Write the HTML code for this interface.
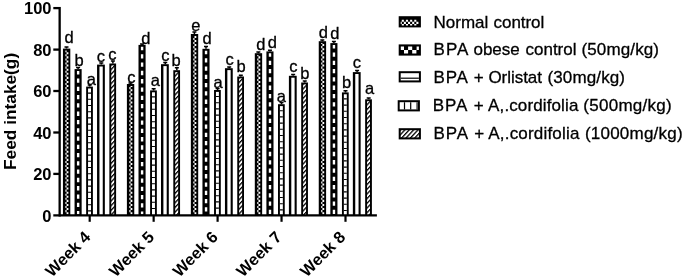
<!DOCTYPE html><html><head><meta charset="utf-8"><title>Feed intake</title><style>html,body{margin:0;padding:0;background:#fff}svg{display:block}text{font-family:"Liberation Sans",Arial,sans-serif;fill:#000}</style></head><body>
<svg width="685" height="278" viewBox="0 0 685 278">
<rect width="685" height="278" fill="#fff"/>
<defs>
<pattern id="hatch" patternUnits="userSpaceOnUse" width="3.2" height="3.2" patternTransform="rotate(-47)"><rect width="3.2" height="3.2" fill="#fff"/><rect width="3.2" height="1.3" fill="#000"/></pattern>
</defs>
<rect x="62.95" y="48.6" width="7.35" height="166.8" fill="#000"/><path d="M66.6 212.15H68.4V214.2H66.6zM65.4 210.1H66.6V212.15H65.4zM66.6 208.05H68.4V210.1H66.6zM65.4 206H66.6V208.05H65.4zM66.6 203.95H68.4V206H66.6zM65.4 201.9H66.6V203.95H65.4zM66.6 199.85H68.4V201.9H66.6zM65.4 197.8H66.6V199.85H65.4zM66.6 195.75H68.4V197.8H66.6zM65.4 193.7H66.6V195.75H65.4zM66.6 191.65H68.4V193.7H66.6zM65.4 189.6H66.6V191.65H65.4zM66.6 187.55H68.4V189.6H66.6zM65.4 185.5H66.6V187.55H65.4zM66.6 183.45H68.4V185.5H66.6zM65.4 181.4H66.6V183.45H65.4zM66.6 179.35H68.4V181.4H66.6zM65.4 177.3H66.6V179.35H65.4zM66.6 175.25H68.4V177.3H66.6zM65.4 173.2H66.6V175.25H65.4zM66.6 171.15H68.4V173.2H66.6zM65.4 169.1H66.6V171.15H65.4zM66.6 167.05H68.4V169.1H66.6zM65.4 165H66.6V167.05H65.4zM66.6 162.95H68.4V165H66.6zM65.4 160.9H66.6V162.95H65.4zM66.6 158.85H68.4V160.9H66.6zM65.4 156.8H66.6V158.85H65.4zM66.6 154.75H68.4V156.8H66.6zM65.4 152.7H66.6V154.75H65.4zM66.6 150.65H68.4V152.7H66.6zM65.4 148.6H66.6V150.65H65.4zM66.6 146.55H68.4V148.6H66.6zM65.4 144.5H66.6V146.55H65.4zM66.6 142.45H68.4V144.5H66.6zM65.4 140.4H66.6V142.45H65.4zM66.6 138.35H68.4V140.4H66.6zM65.4 136.3H66.6V138.35H65.4zM66.6 134.25H68.4V136.3H66.6zM65.4 132.2H66.6V134.25H65.4zM66.6 130.15H68.4V132.2H66.6zM65.4 128.1H66.6V130.15H65.4zM66.6 126.05H68.4V128.1H66.6zM65.4 124H66.6V126.05H65.4zM66.6 121.95H68.4V124H66.6zM65.4 119.9H66.6V121.95H65.4zM66.6 117.85H68.4V119.9H66.6zM65.4 115.8H66.6V117.85H65.4zM66.6 113.75H68.4V115.8H66.6zM65.4 111.7H66.6V113.75H65.4zM66.6 109.65H68.4V111.7H66.6zM65.4 107.6H66.6V109.65H65.4zM66.6 105.55H68.4V107.6H66.6zM65.4 103.5H66.6V105.55H65.4zM66.6 101.45H68.4V103.5H66.6zM65.4 99.4H66.6V101.45H65.4zM66.6 97.35H68.4V99.4H66.6zM65.4 95.3H66.6V97.35H65.4zM66.6 93.25H68.4V95.3H66.6zM65.4 91.2H66.6V93.25H65.4zM66.6 89.15H68.4V91.2H66.6zM65.4 87.1H66.6V89.15H65.4zM66.6 85.05H68.4V87.1H66.6zM65.4 83H66.6V85.05H65.4zM66.6 80.95H68.4V83H66.6zM65.4 78.9H66.6V80.95H65.4zM66.6 76.85H68.4V78.9H66.6zM65.4 74.8H66.6V76.85H65.4zM66.6 72.75H68.4V74.8H66.6zM65.4 70.7H66.6V72.75H65.4zM66.6 68.65H68.4V70.7H66.6zM65.4 66.6H66.6V68.65H65.4zM66.6 64.55H68.4V66.6H66.6zM65.4 62.5H66.6V64.55H65.4zM66.6 60.45H68.4V62.5H66.6zM65.4 58.4H66.6V60.45H65.4zM66.6 56.35H68.4V58.4H66.6zM65.4 54.3H66.6V56.35H65.4zM66.6 52.25H68.4V54.3H66.6zM65.4 50.5H66.6V52.25H65.4z" fill="#fff"/><path d="M66.5 48.6V46.4M64.5 47h4" stroke="#000" stroke-width="1.5" fill="none"/><text x="69.2" y="42.9" font-size="16.5" text-anchor="middle" stroke="#000" stroke-width="0.3">d</text>
<rect x="74.55" y="69.1" width="7.1" height="146.3" fill="#000"/><path d="M76.95 71H79.35V74.5H76.95zM76.95 78.48H79.35V82.78H76.95zM76.95 86.76H79.35V91.06H76.95zM76.95 95.04H79.35V99.34H76.95zM76.95 103.32H79.35V107.62H76.95zM76.95 111.6H79.35V115.9H76.95zM76.95 119.88H79.35V124.18H76.95zM76.95 128.16H79.35V132.46H76.95zM76.95 136.44H79.35V140.74H76.95zM76.95 144.72H79.35V149.02H76.95zM76.95 153H79.35V157.3H76.95zM76.95 161.28H79.35V165.58H76.95zM76.95 169.56H79.35V173.86H76.95zM76.95 177.84H79.35V182.14H76.95zM76.95 186.12H79.35V190.42H76.95zM76.95 194.4H79.35V198.7H76.95zM76.95 202.68H79.35V206.98H76.95zM76.95 210.96H79.35V214.3H76.95z" fill="#fff"/><path d="M78.1 69.1V66.9M76.1 67.5h4" stroke="#000" stroke-width="1.5" fill="none"/><text x="79.1" y="66.2" font-size="16.5" text-anchor="middle" stroke="#000" stroke-width="0.3">b</text>
<rect x="86.15" y="86.6" width="6.75" height="128.8" fill="#000"/><rect x="88.05" y="88.5" width="2.95" height="126.9" fill="#fff"/><path d="M88.05 93.1H91M88.05 99.3H91M88.05 105.5H91M88.05 111.7H91M88.05 117.9H91M88.05 124.1H91M88.05 130.3H91M88.05 136.5H91M88.05 142.7H91M88.05 148.9H91M88.05 155.1H91M88.05 161.3H91M88.05 167.5H91M88.05 173.7H91M88.05 179.9H91M88.05 186.1H91M88.05 192.3H91M88.05 198.5H91M88.05 204.7H91M88.05 210.9H91" stroke="#000" stroke-width="1.1" fill="none"/><path d="M89.7 86.6V84.4M87.7 85h4" stroke="#000" stroke-width="1.5" fill="none"/><text x="91.3" y="84.9" font-size="16.5" text-anchor="middle" stroke="#000" stroke-width="0.3">a</text>
<rect x="97.05" y="64.6" width="7.8" height="150.8" fill="#000"/><rect x="99.45" y="66.5" width="3.3" height="148.9" fill="#fff"/><path d="M101.3 64.6V62.4M99.3 63h4" stroke="#000" stroke-width="1.5" fill="none"/><text x="100.8" y="61.8" font-size="16.5" text-anchor="middle" stroke="#000" stroke-width="0.3">c</text>
<rect x="109.35" y="63.5" width="6.75" height="151.9" fill="#000"/><rect x="111.25" y="65.4" width="2.95" height="150" fill="url(#hatch)"/><path d="M112.9 63.5V60.5M110.9 61.1h4" stroke="#000" stroke-width="1.5" fill="none"/><text x="112.4" y="60" font-size="16.5" text-anchor="middle" stroke="#000" stroke-width="0.3">c</text>
<rect x="126.9" y="84" width="7.35" height="131.4" fill="#000"/><path d="M130.55 212.15H132.35V214.2H130.55zM129.35 210.1H130.55V212.15H129.35zM130.55 208.05H132.35V210.1H130.55zM129.35 206H130.55V208.05H129.35zM130.55 203.95H132.35V206H130.55zM129.35 201.9H130.55V203.95H129.35zM130.55 199.85H132.35V201.9H130.55zM129.35 197.8H130.55V199.85H129.35zM130.55 195.75H132.35V197.8H130.55zM129.35 193.7H130.55V195.75H129.35zM130.55 191.65H132.35V193.7H130.55zM129.35 189.6H130.55V191.65H129.35zM130.55 187.55H132.35V189.6H130.55zM129.35 185.5H130.55V187.55H129.35zM130.55 183.45H132.35V185.5H130.55zM129.35 181.4H130.55V183.45H129.35zM130.55 179.35H132.35V181.4H130.55zM129.35 177.3H130.55V179.35H129.35zM130.55 175.25H132.35V177.3H130.55zM129.35 173.2H130.55V175.25H129.35zM130.55 171.15H132.35V173.2H130.55zM129.35 169.1H130.55V171.15H129.35zM130.55 167.05H132.35V169.1H130.55zM129.35 165H130.55V167.05H129.35zM130.55 162.95H132.35V165H130.55zM129.35 160.9H130.55V162.95H129.35zM130.55 158.85H132.35V160.9H130.55zM129.35 156.8H130.55V158.85H129.35zM130.55 154.75H132.35V156.8H130.55zM129.35 152.7H130.55V154.75H129.35zM130.55 150.65H132.35V152.7H130.55zM129.35 148.6H130.55V150.65H129.35zM130.55 146.55H132.35V148.6H130.55zM129.35 144.5H130.55V146.55H129.35zM130.55 142.45H132.35V144.5H130.55zM129.35 140.4H130.55V142.45H129.35zM130.55 138.35H132.35V140.4H130.55zM129.35 136.3H130.55V138.35H129.35zM130.55 134.25H132.35V136.3H130.55zM129.35 132.2H130.55V134.25H129.35zM130.55 130.15H132.35V132.2H130.55zM129.35 128.1H130.55V130.15H129.35zM130.55 126.05H132.35V128.1H130.55zM129.35 124H130.55V126.05H129.35zM130.55 121.95H132.35V124H130.55zM129.35 119.9H130.55V121.95H129.35zM130.55 117.85H132.35V119.9H130.55zM129.35 115.8H130.55V117.85H129.35zM130.55 113.75H132.35V115.8H130.55zM129.35 111.7H130.55V113.75H129.35zM130.55 109.65H132.35V111.7H130.55zM129.35 107.6H130.55V109.65H129.35zM130.55 105.55H132.35V107.6H130.55zM129.35 103.5H130.55V105.55H129.35zM130.55 101.45H132.35V103.5H130.55zM129.35 99.4H130.55V101.45H129.35zM130.55 97.35H132.35V99.4H130.55zM129.35 95.3H130.55V97.35H129.35zM130.55 93.25H132.35V95.3H130.55zM129.35 91.2H130.55V93.25H129.35zM130.55 89.15H132.35V91.2H130.55zM129.35 87.1H130.55V89.15H129.35zM130.55 85.9H132.35V87.1H130.55z" fill="#fff"/><path d="M130.45 84V82.5M128.45 83.1h4" stroke="#000" stroke-width="1.5" fill="none"/><text x="131.45" y="83.4" font-size="16.5" text-anchor="middle" stroke="#000" stroke-width="0.3">c</text>
<rect x="138.5" y="44.9" width="7.1" height="170.5" fill="#000"/><path d="M140.9 46.8H143.3V50.3H140.9zM140.9 54.28H143.3V58.58H140.9zM140.9 62.56H143.3V66.86H140.9zM140.9 70.84H143.3V75.14H140.9zM140.9 79.12H143.3V83.42H140.9zM140.9 87.4H143.3V91.7H140.9zM140.9 95.68H143.3V99.98H140.9zM140.9 103.96H143.3V108.26H140.9zM140.9 112.24H143.3V116.54H140.9zM140.9 120.52H143.3V124.82H140.9zM140.9 128.8H143.3V133.1H140.9zM140.9 137.08H143.3V141.38H140.9zM140.9 145.36H143.3V149.66H140.9zM140.9 153.64H143.3V157.94H140.9zM140.9 161.92H143.3V166.22H140.9zM140.9 170.2H143.3V174.5H140.9zM140.9 178.48H143.3V182.78H140.9zM140.9 186.76H143.3V191.06H140.9zM140.9 195.04H143.3V199.34H140.9zM140.9 203.32H143.3V207.62H140.9zM140.9 211.6H143.3V214.3H140.9z" fill="#fff"/><path d="M142.05 44.9V43.4M140.05 44h4" stroke="#000" stroke-width="1.5" fill="none"/><text x="145.75" y="43.5" font-size="16.5" text-anchor="middle" stroke="#000" stroke-width="0.3">d</text>
<rect x="150.1" y="90.4" width="6.75" height="125" fill="#000"/><rect x="152" y="92.3" width="2.95" height="123.1" fill="#fff"/><path d="M152 96.9H154.95M152 103.1H154.95M152 109.3H154.95M152 115.5H154.95M152 121.7H154.95M152 127.9H154.95M152 134.1H154.95M152 140.3H154.95M152 146.5H154.95M152 152.7H154.95M152 158.9H154.95M152 165.1H154.95M152 171.3H154.95M152 177.5H154.95M152 183.7H154.95M152 189.9H154.95M152 196.1H154.95M152 202.3H154.95M152 208.5H154.95" stroke="#000" stroke-width="1.1" fill="none"/><path d="M153.65 90.4V88.2M151.65 88.8h4" stroke="#000" stroke-width="1.5" fill="none"/><text x="155.25" y="86.1" font-size="16.5" text-anchor="middle" stroke="#000" stroke-width="0.3">a</text>
<rect x="161" y="64.2" width="7.8" height="151.2" fill="#000"/><rect x="163.4" y="66.1" width="3.3" height="149.3" fill="#fff"/><path d="M165.25 64.2V62M163.25 62.6h4" stroke="#000" stroke-width="1.5" fill="none"/><text x="165.25" y="60.9" font-size="16.5" text-anchor="middle" stroke="#000" stroke-width="0.3">c</text>
<rect x="173.3" y="70.2" width="6.75" height="145.2" fill="#000"/><rect x="175.2" y="72.1" width="2.95" height="143.3" fill="url(#hatch)"/><path d="M176.85 70.2V67.2M174.85 67.8h4" stroke="#000" stroke-width="1.5" fill="none"/><text x="176.15" y="65.7" font-size="16.5" text-anchor="middle" stroke="#000" stroke-width="0.3">b</text>
<rect x="190.85" y="34" width="7.35" height="181.4" fill="#000"/><path d="M194.5 212.15H196.3V214.2H194.5zM193.3 210.1H194.5V212.15H193.3zM194.5 208.05H196.3V210.1H194.5zM193.3 206H194.5V208.05H193.3zM194.5 203.95H196.3V206H194.5zM193.3 201.9H194.5V203.95H193.3zM194.5 199.85H196.3V201.9H194.5zM193.3 197.8H194.5V199.85H193.3zM194.5 195.75H196.3V197.8H194.5zM193.3 193.7H194.5V195.75H193.3zM194.5 191.65H196.3V193.7H194.5zM193.3 189.6H194.5V191.65H193.3zM194.5 187.55H196.3V189.6H194.5zM193.3 185.5H194.5V187.55H193.3zM194.5 183.45H196.3V185.5H194.5zM193.3 181.4H194.5V183.45H193.3zM194.5 179.35H196.3V181.4H194.5zM193.3 177.3H194.5V179.35H193.3zM194.5 175.25H196.3V177.3H194.5zM193.3 173.2H194.5V175.25H193.3zM194.5 171.15H196.3V173.2H194.5zM193.3 169.1H194.5V171.15H193.3zM194.5 167.05H196.3V169.1H194.5zM193.3 165H194.5V167.05H193.3zM194.5 162.95H196.3V165H194.5zM193.3 160.9H194.5V162.95H193.3zM194.5 158.85H196.3V160.9H194.5zM193.3 156.8H194.5V158.85H193.3zM194.5 154.75H196.3V156.8H194.5zM193.3 152.7H194.5V154.75H193.3zM194.5 150.65H196.3V152.7H194.5zM193.3 148.6H194.5V150.65H193.3zM194.5 146.55H196.3V148.6H194.5zM193.3 144.5H194.5V146.55H193.3zM194.5 142.45H196.3V144.5H194.5zM193.3 140.4H194.5V142.45H193.3zM194.5 138.35H196.3V140.4H194.5zM193.3 136.3H194.5V138.35H193.3zM194.5 134.25H196.3V136.3H194.5zM193.3 132.2H194.5V134.25H193.3zM194.5 130.15H196.3V132.2H194.5zM193.3 128.1H194.5V130.15H193.3zM194.5 126.05H196.3V128.1H194.5zM193.3 124H194.5V126.05H193.3zM194.5 121.95H196.3V124H194.5zM193.3 119.9H194.5V121.95H193.3zM194.5 117.85H196.3V119.9H194.5zM193.3 115.8H194.5V117.85H193.3zM194.5 113.75H196.3V115.8H194.5zM193.3 111.7H194.5V113.75H193.3zM194.5 109.65H196.3V111.7H194.5zM193.3 107.6H194.5V109.65H193.3zM194.5 105.55H196.3V107.6H194.5zM193.3 103.5H194.5V105.55H193.3zM194.5 101.45H196.3V103.5H194.5zM193.3 99.4H194.5V101.45H193.3zM194.5 97.35H196.3V99.4H194.5zM193.3 95.3H194.5V97.35H193.3zM194.5 93.25H196.3V95.3H194.5zM193.3 91.2H194.5V93.25H193.3zM194.5 89.15H196.3V91.2H194.5zM193.3 87.1H194.5V89.15H193.3zM194.5 85.05H196.3V87.1H194.5zM193.3 83H194.5V85.05H193.3zM194.5 80.95H196.3V83H194.5zM193.3 78.9H194.5V80.95H193.3zM194.5 76.85H196.3V78.9H194.5zM193.3 74.8H194.5V76.85H193.3zM194.5 72.75H196.3V74.8H194.5zM193.3 70.7H194.5V72.75H193.3zM194.5 68.65H196.3V70.7H194.5zM193.3 66.6H194.5V68.65H193.3zM194.5 64.55H196.3V66.6H194.5zM193.3 62.5H194.5V64.55H193.3zM194.5 60.45H196.3V62.5H194.5zM193.3 58.4H194.5V60.45H193.3zM194.5 56.35H196.3V58.4H194.5zM193.3 54.3H194.5V56.35H193.3zM194.5 52.25H196.3V54.3H194.5zM193.3 50.2H194.5V52.25H193.3zM194.5 48.15H196.3V50.2H194.5zM193.3 46.1H194.5V48.15H193.3zM194.5 44.05H196.3V46.1H194.5zM193.3 42H194.5V44.05H193.3zM194.5 39.95H196.3V42H194.5zM193.3 37.9H194.5V39.95H193.3zM194.5 35.9H196.3V37.9H194.5z" fill="#fff"/><path d="M194.4 34V31.4M192.4 32h4" stroke="#000" stroke-width="1.5" fill="none"/><text x="195.9" y="30.8" font-size="16.5" text-anchor="middle" stroke="#000" stroke-width="0.3">e</text>
<rect x="202.45" y="48.8" width="7.1" height="166.6" fill="#000"/><path d="M204.85 50.7H207.25V54.2H204.85zM204.85 58.18H207.25V62.48H204.85zM204.85 66.46H207.25V70.76H204.85zM204.85 74.74H207.25V79.04H204.85zM204.85 83.02H207.25V87.32H204.85zM204.85 91.3H207.25V95.6H204.85zM204.85 99.58H207.25V103.88H204.85zM204.85 107.86H207.25V112.16H204.85zM204.85 116.14H207.25V120.44H204.85zM204.85 124.42H207.25V128.72H204.85zM204.85 132.7H207.25V137H204.85zM204.85 140.98H207.25V145.28H204.85zM204.85 149.26H207.25V153.56H204.85zM204.85 157.54H207.25V161.84H204.85zM204.85 165.82H207.25V170.12H204.85zM204.85 174.1H207.25V178.4H204.85zM204.85 182.38H207.25V186.68H204.85zM204.85 190.66H207.25V194.96H204.85zM204.85 198.94H207.25V203.24H204.85zM204.85 207.22H207.25V211.52H204.85z" fill="#fff"/><path d="M206 48.8V45.8M204 46.4h4" stroke="#000" stroke-width="1.5" fill="none"/><text x="207" y="43.5" font-size="16.5" text-anchor="middle" stroke="#000" stroke-width="0.3">d</text>
<rect x="214.05" y="90" width="6.75" height="125.4" fill="#000"/><rect x="215.95" y="91.9" width="2.95" height="123.5" fill="#fff"/><path d="M215.95 96.5H218.9M215.95 102.7H218.9M215.95 108.9H218.9M215.95 115.1H218.9M215.95 121.3H218.9M215.95 127.5H218.9M215.95 133.7H218.9M215.95 139.9H218.9M215.95 146.1H218.9M215.95 152.3H218.9M215.95 158.5H218.9M215.95 164.7H218.9M215.95 170.9H218.9M215.95 177.1H218.9M215.95 183.3H218.9M215.95 189.5H218.9M215.95 195.7H218.9M215.95 201.9H218.9M215.95 208.1H218.9" stroke="#000" stroke-width="1.1" fill="none"/><path d="M217.6 90V87.8M215.6 88.4h4" stroke="#000" stroke-width="1.5" fill="none"/><text x="218" y="87.8" font-size="16.5" text-anchor="middle" stroke="#000" stroke-width="0.3">a</text>
<rect x="224.95" y="68.2" width="7.8" height="147.2" fill="#000"/><rect x="227.35" y="70.1" width="3.3" height="145.3" fill="#fff"/><path d="M229.2 68.2V66.4M227.2 67h4" stroke="#000" stroke-width="1.5" fill="none"/><text x="229.7" y="64.9" font-size="16.5" text-anchor="middle" stroke="#000" stroke-width="0.3">c</text>
<rect x="237.25" y="76.5" width="6.75" height="138.9" fill="#000"/><rect x="239.15" y="78.4" width="2.95" height="137" fill="url(#hatch)"/><path d="M240.8 76.5V74.7M238.8 75.3h4" stroke="#000" stroke-width="1.5" fill="none"/><text x="241.2" y="71.7" font-size="16.5" text-anchor="middle" stroke="#000" stroke-width="0.3">b</text>
<rect x="254.8" y="53.2" width="7.35" height="162.2" fill="#000"/><path d="M258.45 212.15H260.25V214.2H258.45zM257.25 210.1H258.45V212.15H257.25zM258.45 208.05H260.25V210.1H258.45zM257.25 206H258.45V208.05H257.25zM258.45 203.95H260.25V206H258.45zM257.25 201.9H258.45V203.95H257.25zM258.45 199.85H260.25V201.9H258.45zM257.25 197.8H258.45V199.85H257.25zM258.45 195.75H260.25V197.8H258.45zM257.25 193.7H258.45V195.75H257.25zM258.45 191.65H260.25V193.7H258.45zM257.25 189.6H258.45V191.65H257.25zM258.45 187.55H260.25V189.6H258.45zM257.25 185.5H258.45V187.55H257.25zM258.45 183.45H260.25V185.5H258.45zM257.25 181.4H258.45V183.45H257.25zM258.45 179.35H260.25V181.4H258.45zM257.25 177.3H258.45V179.35H257.25zM258.45 175.25H260.25V177.3H258.45zM257.25 173.2H258.45V175.25H257.25zM258.45 171.15H260.25V173.2H258.45zM257.25 169.1H258.45V171.15H257.25zM258.45 167.05H260.25V169.1H258.45zM257.25 165H258.45V167.05H257.25zM258.45 162.95H260.25V165H258.45zM257.25 160.9H258.45V162.95H257.25zM258.45 158.85H260.25V160.9H258.45zM257.25 156.8H258.45V158.85H257.25zM258.45 154.75H260.25V156.8H258.45zM257.25 152.7H258.45V154.75H257.25zM258.45 150.65H260.25V152.7H258.45zM257.25 148.6H258.45V150.65H257.25zM258.45 146.55H260.25V148.6H258.45zM257.25 144.5H258.45V146.55H257.25zM258.45 142.45H260.25V144.5H258.45zM257.25 140.4H258.45V142.45H257.25zM258.45 138.35H260.25V140.4H258.45zM257.25 136.3H258.45V138.35H257.25zM258.45 134.25H260.25V136.3H258.45zM257.25 132.2H258.45V134.25H257.25zM258.45 130.15H260.25V132.2H258.45zM257.25 128.1H258.45V130.15H257.25zM258.45 126.05H260.25V128.1H258.45zM257.25 124H258.45V126.05H257.25zM258.45 121.95H260.25V124H258.45zM257.25 119.9H258.45V121.95H257.25zM258.45 117.85H260.25V119.9H258.45zM257.25 115.8H258.45V117.85H257.25zM258.45 113.75H260.25V115.8H258.45zM257.25 111.7H258.45V113.75H257.25zM258.45 109.65H260.25V111.7H258.45zM257.25 107.6H258.45V109.65H257.25zM258.45 105.55H260.25V107.6H258.45zM257.25 103.5H258.45V105.55H257.25zM258.45 101.45H260.25V103.5H258.45zM257.25 99.4H258.45V101.45H257.25zM258.45 97.35H260.25V99.4H258.45zM257.25 95.3H258.45V97.35H257.25zM258.45 93.25H260.25V95.3H258.45zM257.25 91.2H258.45V93.25H257.25zM258.45 89.15H260.25V91.2H258.45zM257.25 87.1H258.45V89.15H257.25zM258.45 85.05H260.25V87.1H258.45zM257.25 83H258.45V85.05H257.25zM258.45 80.95H260.25V83H258.45zM257.25 78.9H258.45V80.95H257.25zM258.45 76.85H260.25V78.9H258.45zM257.25 74.8H258.45V76.85H257.25zM258.45 72.75H260.25V74.8H258.45zM257.25 70.7H258.45V72.75H257.25zM258.45 68.65H260.25V70.7H258.45zM257.25 66.6H258.45V68.65H257.25zM258.45 64.55H260.25V66.6H258.45zM257.25 62.5H258.45V64.55H257.25zM258.45 60.45H260.25V62.5H258.45zM257.25 58.4H258.45V60.45H257.25zM258.45 56.35H260.25V58.4H258.45zM257.25 55.1H258.45V56.35H257.25z" fill="#fff"/><path d="M258.35 53.2V51.4M256.35 52h4" stroke="#000" stroke-width="1.5" fill="none"/><text x="260.95" y="50.4" font-size="16.5" text-anchor="middle" stroke="#000" stroke-width="0.3">d</text>
<rect x="266.4" y="51.4" width="7.1" height="164" fill="#000"/><path d="M268.8 53.3H271.2V56.8H268.8zM268.8 60.78H271.2V65.08H268.8zM268.8 69.06H271.2V73.36H268.8zM268.8 77.34H271.2V81.64H268.8zM268.8 85.62H271.2V89.92H268.8zM268.8 93.9H271.2V98.2H268.8zM268.8 102.18H271.2V106.48H268.8zM268.8 110.46H271.2V114.76H268.8zM268.8 118.74H271.2V123.04H268.8zM268.8 127.02H271.2V131.32H268.8zM268.8 135.3H271.2V139.6H268.8zM268.8 143.58H271.2V147.88H268.8zM268.8 151.86H271.2V156.16H268.8zM268.8 160.14H271.2V164.44H268.8zM268.8 168.42H271.2V172.72H268.8zM268.8 176.7H271.2V181H268.8zM268.8 184.98H271.2V189.28H268.8zM268.8 193.26H271.2V197.56H268.8zM268.8 201.54H271.2V205.84H268.8zM268.8 209.82H271.2V214.12H268.8z" fill="#fff"/><path d="M269.95 51.4V49.6M267.95 50.2h4" stroke="#000" stroke-width="1.5" fill="none"/><text x="272.45" y="48.2" font-size="16.5" text-anchor="middle" stroke="#000" stroke-width="0.3">d</text>
<rect x="278" y="104.2" width="6.75" height="111.2" fill="#000"/><rect x="279.9" y="106.1" width="2.95" height="109.3" fill="#fff"/><path d="M279.9 110.7H282.85M279.9 116.9H282.85M279.9 123.1H282.85M279.9 129.3H282.85M279.9 135.5H282.85M279.9 141.7H282.85M279.9 147.9H282.85M279.9 154.1H282.85M279.9 160.3H282.85M279.9 166.5H282.85M279.9 172.7H282.85M279.9 178.9H282.85M279.9 185.1H282.85M279.9 191.3H282.85M279.9 197.5H282.85M279.9 203.7H282.85M279.9 209.9H282.85" stroke="#000" stroke-width="1.1" fill="none"/><path d="M281.55 104.2V102M279.55 102.6h4" stroke="#000" stroke-width="1.5" fill="none"/><text x="281.35" y="102.4" font-size="16.5" text-anchor="middle" stroke="#000" stroke-width="0.3">a</text>
<rect x="288.9" y="75.8" width="7.8" height="139.6" fill="#000"/><rect x="291.3" y="77.7" width="3.3" height="137.7" fill="#fff"/><path d="M293.15 75.8V74M291.15 74.6h4" stroke="#000" stroke-width="1.5" fill="none"/><text x="293.35" y="72.1" font-size="16.5" text-anchor="middle" stroke="#000" stroke-width="0.3">c</text>
<rect x="301.2" y="82.5" width="6.75" height="132.9" fill="#000"/><rect x="303.1" y="84.4" width="2.95" height="131" fill="url(#hatch)"/><path d="M304.75 82.5V80.3M302.75 80.9h4" stroke="#000" stroke-width="1.5" fill="none"/><text x="304.75" y="79" font-size="16.5" text-anchor="middle" stroke="#000" stroke-width="0.3">b</text>
<rect x="318.75" y="41.2" width="7.35" height="174.2" fill="#000"/><path d="M322.4 212.15H324.2V214.2H322.4zM321.2 210.1H322.4V212.15H321.2zM322.4 208.05H324.2V210.1H322.4zM321.2 206H322.4V208.05H321.2zM322.4 203.95H324.2V206H322.4zM321.2 201.9H322.4V203.95H321.2zM322.4 199.85H324.2V201.9H322.4zM321.2 197.8H322.4V199.85H321.2zM322.4 195.75H324.2V197.8H322.4zM321.2 193.7H322.4V195.75H321.2zM322.4 191.65H324.2V193.7H322.4zM321.2 189.6H322.4V191.65H321.2zM322.4 187.55H324.2V189.6H322.4zM321.2 185.5H322.4V187.55H321.2zM322.4 183.45H324.2V185.5H322.4zM321.2 181.4H322.4V183.45H321.2zM322.4 179.35H324.2V181.4H322.4zM321.2 177.3H322.4V179.35H321.2zM322.4 175.25H324.2V177.3H322.4zM321.2 173.2H322.4V175.25H321.2zM322.4 171.15H324.2V173.2H322.4zM321.2 169.1H322.4V171.15H321.2zM322.4 167.05H324.2V169.1H322.4zM321.2 165H322.4V167.05H321.2zM322.4 162.95H324.2V165H322.4zM321.2 160.9H322.4V162.95H321.2zM322.4 158.85H324.2V160.9H322.4zM321.2 156.8H322.4V158.85H321.2zM322.4 154.75H324.2V156.8H322.4zM321.2 152.7H322.4V154.75H321.2zM322.4 150.65H324.2V152.7H322.4zM321.2 148.6H322.4V150.65H321.2zM322.4 146.55H324.2V148.6H322.4zM321.2 144.5H322.4V146.55H321.2zM322.4 142.45H324.2V144.5H322.4zM321.2 140.4H322.4V142.45H321.2zM322.4 138.35H324.2V140.4H322.4zM321.2 136.3H322.4V138.35H321.2zM322.4 134.25H324.2V136.3H322.4zM321.2 132.2H322.4V134.25H321.2zM322.4 130.15H324.2V132.2H322.4zM321.2 128.1H322.4V130.15H321.2zM322.4 126.05H324.2V128.1H322.4zM321.2 124H322.4V126.05H321.2zM322.4 121.95H324.2V124H322.4zM321.2 119.9H322.4V121.95H321.2zM322.4 117.85H324.2V119.9H322.4zM321.2 115.8H322.4V117.85H321.2zM322.4 113.75H324.2V115.8H322.4zM321.2 111.7H322.4V113.75H321.2zM322.4 109.65H324.2V111.7H322.4zM321.2 107.6H322.4V109.65H321.2zM322.4 105.55H324.2V107.6H322.4zM321.2 103.5H322.4V105.55H321.2zM322.4 101.45H324.2V103.5H322.4zM321.2 99.4H322.4V101.45H321.2zM322.4 97.35H324.2V99.4H322.4zM321.2 95.3H322.4V97.35H321.2zM322.4 93.25H324.2V95.3H322.4zM321.2 91.2H322.4V93.25H321.2zM322.4 89.15H324.2V91.2H322.4zM321.2 87.1H322.4V89.15H321.2zM322.4 85.05H324.2V87.1H322.4zM321.2 83H322.4V85.05H321.2zM322.4 80.95H324.2V83H322.4zM321.2 78.9H322.4V80.95H321.2zM322.4 76.85H324.2V78.9H322.4zM321.2 74.8H322.4V76.85H321.2zM322.4 72.75H324.2V74.8H322.4zM321.2 70.7H322.4V72.75H321.2zM322.4 68.65H324.2V70.7H322.4zM321.2 66.6H322.4V68.65H321.2zM322.4 64.55H324.2V66.6H322.4zM321.2 62.5H322.4V64.55H321.2zM322.4 60.45H324.2V62.5H322.4zM321.2 58.4H322.4V60.45H321.2zM322.4 56.35H324.2V58.4H322.4zM321.2 54.3H322.4V56.35H321.2zM322.4 52.25H324.2V54.3H322.4zM321.2 50.2H322.4V52.25H321.2zM322.4 48.15H324.2V50.2H322.4zM321.2 46.1H322.4V48.15H321.2zM322.4 44.05H324.2V46.1H322.4zM321.2 43.1H322.4V44.05H321.2z" fill="#fff"/><path d="M322.3 41.2V39.4M320.3 40h4" stroke="#000" stroke-width="1.5" fill="none"/><text x="323.3" y="38.4" font-size="16.5" text-anchor="middle" stroke="#000" stroke-width="0.3">d</text>
<rect x="330.35" y="43.1" width="7.1" height="172.3" fill="#000"/><path d="M332.75 45H335.15V48.5H332.75zM332.75 52.48H335.15V56.78H332.75zM332.75 60.76H335.15V65.06H332.75zM332.75 69.04H335.15V73.34H332.75zM332.75 77.32H335.15V81.62H332.75zM332.75 85.6H335.15V89.9H332.75zM332.75 93.88H335.15V98.18H332.75zM332.75 102.16H335.15V106.46H332.75zM332.75 110.44H335.15V114.74H332.75zM332.75 118.72H335.15V123.02H332.75zM332.75 127H335.15V131.3H332.75zM332.75 135.28H335.15V139.58H332.75zM332.75 143.56H335.15V147.86H332.75zM332.75 151.84H335.15V156.14H332.75zM332.75 160.12H335.15V164.42H332.75zM332.75 168.4H335.15V172.7H332.75zM332.75 176.68H335.15V180.98H332.75zM332.75 184.96H335.15V189.26H332.75zM332.75 193.24H335.15V197.54H332.75zM332.75 201.52H335.15V205.82H332.75zM332.75 209.8H335.15V214.1H332.75z" fill="#fff"/><path d="M333.9 43.1V40.9M331.9 41.5h4" stroke="#000" stroke-width="1.5" fill="none"/><text x="334.9" y="38.6" font-size="16.5" text-anchor="middle" stroke="#000" stroke-width="0.3">d</text>
<rect x="341.95" y="92.4" width="6.75" height="123" fill="#000"/><rect x="343.85" y="94.3" width="2.95" height="121.1" fill="#fff"/><path d="M343.85 98.9H346.8M343.85 105.1H346.8M343.85 111.3H346.8M343.85 117.5H346.8M343.85 123.7H346.8M343.85 129.9H346.8M343.85 136.1H346.8M343.85 142.3H346.8M343.85 148.5H346.8M343.85 154.7H346.8M343.85 160.9H346.8M343.85 167.1H346.8M343.85 173.3H346.8M343.85 179.5H346.8M343.85 185.7H346.8M343.85 191.9H346.8M343.85 198.1H346.8M343.85 204.3H346.8M343.85 210.5H346.8" stroke="#000" stroke-width="1.1" fill="none"/><path d="M345.5 92.4V90.2M343.5 90.8h4" stroke="#000" stroke-width="1.5" fill="none"/><text x="346.5" y="88" font-size="16.5" text-anchor="middle" stroke="#000" stroke-width="0.3">b</text>
<rect x="352.85" y="72.1" width="7.8" height="143.3" fill="#000"/><rect x="355.25" y="74" width="3.3" height="141.4" fill="#fff"/><path d="M357.1 72.1V69.9M355.1 70.5h4" stroke="#000" stroke-width="1.5" fill="none"/><text x="356.9" y="68" font-size="16.5" text-anchor="middle" stroke="#000" stroke-width="0.3">c</text>
<rect x="365.15" y="99.3" width="6.75" height="116.1" fill="#000"/><rect x="367.05" y="101.2" width="2.95" height="114.2" fill="url(#hatch)"/><path d="M368.7 99.3V97.5M366.7 98.1h4" stroke="#000" stroke-width="1.5" fill="none"/><text x="369.7" y="94.2" font-size="16.5" text-anchor="middle" stroke="#000" stroke-width="0.3">a</text>
<path d="M59.65 6.95V216.55" stroke="#000" stroke-width="2.3" fill="none"/>
<path d="M53.3 215.4H376.9" stroke="#000" stroke-width="2.3" fill="none"/>
<text x="51.5" y="221.7" font-size="16.5" font-weight="bold" text-anchor="end">0</text>
<path d="M53.3 173.9H59" stroke="#000" stroke-width="2.3"/>
<text x="51.5" y="180.2" font-size="16.5" font-weight="bold" text-anchor="end">20</text>
<path d="M53.3 132.5H59" stroke="#000" stroke-width="2.3"/>
<text x="51.5" y="138.8" font-size="16.5" font-weight="bold" text-anchor="end">40</text>
<path d="M53.3 91H59" stroke="#000" stroke-width="2.3"/>
<text x="51.5" y="97.3" font-size="16.5" font-weight="bold" text-anchor="end">60</text>
<path d="M53.3 49.6H59" stroke="#000" stroke-width="2.3"/>
<text x="51.5" y="55.9" font-size="16.5" font-weight="bold" text-anchor="end">80</text>
<path d="M53.3 8.1H59" stroke="#000" stroke-width="2.3"/>
<text x="51.5" y="14.4" font-size="16.5" font-weight="bold" text-anchor="end">100</text>
<path d="M89.7 215.4V221.8" stroke="#000" stroke-width="2.2"/>
<text transform="translate(91.5 238.2) rotate(-45)" font-size="16.3" font-weight="bold" text-anchor="end">Week 4</text>
<path d="M153.65 215.4V221.8" stroke="#000" stroke-width="2.2"/>
<text transform="translate(155.2 238.2) rotate(-45)" font-size="16.3" font-weight="bold" text-anchor="end">Week 5</text>
<path d="M217.6 215.4V221.8" stroke="#000" stroke-width="2.2"/>
<text transform="translate(218.9 238.2) rotate(-45)" font-size="16.3" font-weight="bold" text-anchor="end">Week 6</text>
<path d="M281.55 215.4V221.8" stroke="#000" stroke-width="2.2"/>
<text transform="translate(282.6 238.2) rotate(-45)" font-size="16.3" font-weight="bold" text-anchor="end">Week 7</text>
<path d="M345.5 215.4V221.8" stroke="#000" stroke-width="2.2"/>
<text transform="translate(346.3 238.2) rotate(-45)" font-size="16.3" font-weight="bold" text-anchor="end">Week 8</text>
<text transform="translate(15.7 111.4) rotate(-90)" font-size="17.3" font-weight="bold" text-anchor="middle">Feed intake(g)</text>
<rect x="398.7" y="16.2" width="22.2" height="11.2" fill="#000"/>
<path d="M401.78 19.78H403.86V21.86H401.78zM405.94 19.78H408.02V21.86H405.94zM410.1 19.78H412.18V21.86H410.1zM414.26 19.78H416.34V21.86H414.26zM400.7 21.86H401.78V23.94H400.7zM403.86 21.86H405.94V23.94H403.86zM408.02 21.86H410.1V23.94H408.02zM412.18 21.86H414.26V23.94H412.18zM416.34 21.86H418.42V23.94H416.34zM401.78 23.94H403.86V25.4H401.78zM405.94 23.94H408.02V25.4H405.94zM410.1 23.94H412.18V25.4H410.1zM414.26 23.94H416.34V25.4H414.26z" fill="#fff"/>
<text y="27.5" font-size="17" stroke="#000" stroke-width="0.3"><tspan x="433.5" letter-spacing="0">Normal </tspan><tspan x="493.6" letter-spacing="-0.07">control</tspan></text>
<rect x="398.7" y="44.4" width="22.2" height="11.2" fill="#000"/>
<path d="M400.8 46.4H404V49.9H400.8zM408.1 46.4H412.2V49.9H408.1zM416.6 46.4H418.9V49.9H416.6zM404 49.9H408.1V53.6H404zM412.2 49.9H416.4V53.6H412.2z" fill="#fff"/>
<text y="55.4" font-size="17" stroke="#000" stroke-width="0.3"><tspan x="433.5" letter-spacing="1.04">BPA </tspan><tspan x="473.4" letter-spacing="0.03">obese </tspan><tspan x="525.5" letter-spacing="-0.01">control </tspan><tspan x="581.5" letter-spacing="0.12">(50mg/kg)</tspan></text>
<rect x="398.7" y="71.2" width="22.2" height="11.2" fill="#000"/>
<rect x="400.7" y="73.2" width="18.2" height="7.2" fill="#fff"/>
<path d="M400.7 78.2h18.2" stroke="#000" stroke-width="1.2"/>
<text y="82.5" font-size="17" stroke="#000" stroke-width="0.3"><tspan x="433.5" letter-spacing="0.84">BPA </tspan><tspan x="473.8" letter-spacing="0">+ </tspan><tspan x="488.4" letter-spacing="-0.03">Orlistat </tspan><tspan x="547.4" letter-spacing="0.14">(30mg/kg)</tspan></text>
<rect x="397.7" y="100.2" width="22.2" height="11.2" fill="#000"/>
<rect x="399.7" y="102.2" width="18.2" height="7.2" fill="#fff"/>
<path d="M404.5 102.2v7.2M410.7 102.2v7.2" stroke="#000" stroke-width="1.2"/><path d="M417.1 102.2v7.2" stroke="#000" stroke-opacity="0.65" stroke-width="1.7"/>
<text y="111.4" font-size="17" stroke="#000" stroke-width="0.3"><tspan x="432.7" letter-spacing="0.94">BPA </tspan><tspan x="473.8" letter-spacing="0">+ </tspan><tspan x="488.1" letter-spacing="0.12">A,.cordifolia </tspan><tspan x="583.3" letter-spacing="0.27">(500mg/kg)</tspan></text>
<rect x="398.7" y="128.2" width="22.2" height="11.2" fill="#000"/>
<rect x="400.7" y="130.2" width="18.2" height="7.2" fill="url(#hatch)"/>
<text y="139.4" font-size="17" stroke="#000" stroke-width="0.3"><tspan x="433.6" letter-spacing="0.89">BPA </tspan><tspan x="474.2" letter-spacing="0">+ </tspan><tspan x="488.3" letter-spacing="0.19">A,.cordifolia </tspan><tspan x="584.9" letter-spacing="0.23">(1000mg/kg)</tspan></text>
</svg></body></html>
